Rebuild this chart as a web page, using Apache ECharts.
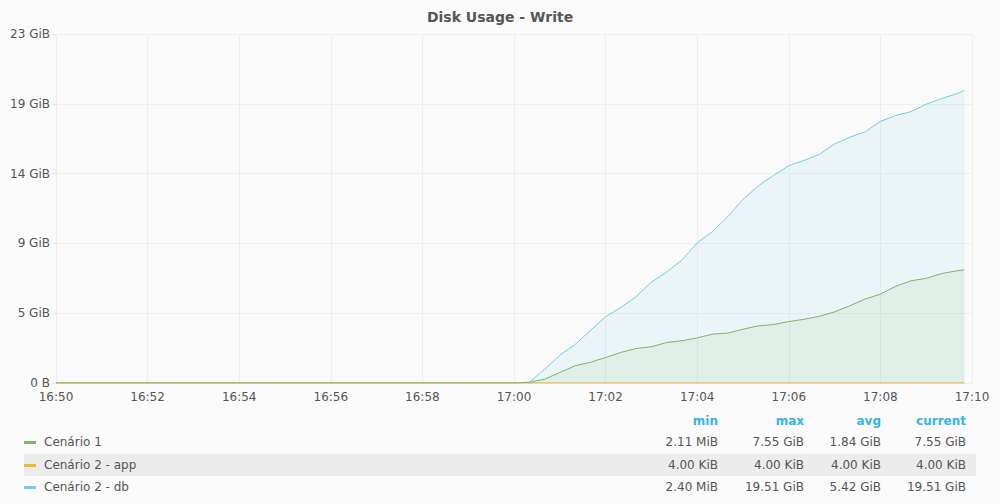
<!DOCTYPE html>
<html><head><meta charset="utf-8">
<script src="https://cdn.jsdelivr.net/npm/echarts@6/dist/echarts.min.js"></script>
<style>html,body{margin:0;padding:0;background:#fafafa;}#c{width:1000px;height:504px;}</style>
</head><body><div id="c"></div>
<script>
const title = 'Disk Usage - Write';
const seriesNames = ['Cenário 1', 'Cenário 2 - app', 'Cenário 2 - db'];
const seriesColors = ['#7eb26d', '#eab839', '#6ed0e0'];
const xTickLabels = ['16:50','16:52','16:54','16:56','16:58','17:00','17:02','17:04','17:06','17:08','17:10'];
const times = ['16:50:00','17:00:00','17:00:20','17:00:40','17:01:00','17:01:20','17:01:40','17:02:00','17:02:20','17:02:40','17:03:00',
  '17:03:20','17:03:40','17:04:00','17:04:20','17:04:40','17:05:00','17:05:20','17:05:40','17:06:00','17:06:20',
  '17:06:40','17:07:00','17:07:20','17:07:40','17:08:00','17:08:20','17:08:40','17:09:00','17:09:20','17:09:40','17:09:50'];
// values in GiB
const cenario1 = [0,0,0.05,0.25,0.7,1.15,1.38,1.7,2.04,2.3,2.42,2.7,2.82,3.01,3.26,3.33,3.59,3.81,3.9,4.1,4.25,4.45,4.75,5.15,5.6,5.93,6.45,6.82,6.98,7.3,7.48,7.55];
const cenario2app = times.map(() => 4 / 1048576); // constant 4.00 KiB
const cenario2db = [0,0,0.05,0.9,1.85,2.57,3.5,4.42,5.05,5.75,6.73,7.4,8.2,9.35,10.1,11.1,12.25,13.15,13.84,14.5,14.85,15.25,15.95,16.4,16.75,17.45,17.85,18.1,18.6,18.97,19.3,19.51];
const statHeaders = ['min','max','avg','current'];
const statRows = [
  ['2.11 MiB','7.55 GiB','1.84 GiB','7.55 GiB'],
  ['4.00 KiB','4.00 KiB','4.00 KiB','4.00 KiB'],
  ['2.40 MiB','19.51 GiB','5.42 GiB','19.51 GiB']
];

const GIB_TO_GB = 1073741824 / 1e9;
function toMin(s){const p=s.split(':').map(Number);return (p[0]*60+p[1]+p[2]/60)-(16*60+50);}
function mk(vals){return times.map((t,i)=>[toMin(t), vals[i]*GIB_TO_GB]);}
const allVals = [cenario1, cenario2app, cenario2db];
const zOrder = [4, 3, 2];

const font = 'DejaVu Sans';
const textCol = '#555';
const series = [0,1,2].map(i => ({
  name: seriesNames[i], type: 'line', data: mk(allVals[i]), showSymbol: false, symbol: 'none',
  lineStyle: {width: i===1 ? 1.5 : 1, color: seriesColors[i], opacity: i===1 ? 0.8 : 1}, itemStyle: {color: seriesColors[i]},
  areaStyle: {color: seriesColors[i], opacity: i===1 ? 0.0 : 0.1}, z: zOrder[i], animation: false
}));

const graphics = [];
const colRight = [718, 804, 881, 966];
statHeaders.forEach((h, j) => graphics.push({type:'text', x: colRight[j], y: 421,
  style:{text:h, fill:'#33b5e5', font:'bold 12px "'+font+'"', textAlign:'right', textVerticalAlign:'middle'}}));
const rowY = [442, 465, 487];
graphics.push({type:'rect', shape:{x:24, y:454, width:952, height:22}, style:{fill:'#ececec'}, z:0});
seriesNames.forEach((n, i) => {
  graphics.push({type:'rect', shape:{x:24, y:rowY[i]-1, width:12, height:3}, style:{fill:seriesColors[i]}, z:1});
  graphics.push({type:'text', x:44, y:rowY[i], style:{text:n, fill:textCol, font:'12px "'+font+'"', textVerticalAlign:'middle'}, z:1});
  statRows[i].forEach((v, j) => graphics.push({type:'text', x: colRight[j], y: rowY[i],
    style:{text:v, fill:textCol, font:'12px "'+font+'"', textAlign:'right', textVerticalAlign:'middle'}, z:1}));
});

const chart = echarts.init(document.getElementById('c'), null, {renderer:'svg'});
chart.setOption({
  backgroundColor: '#fafafa',
  animation: false,
  title: {text: title, left: 'center', top: 5, textStyle: {fontFamily: font, fontSize: 14, fontWeight: 'bold', color: '#555'}},
  grid: {left: 56, right: 28, top: 34, bottom: 121, containLabel: false},
  xAxis: {type: 'value', min: 0, max: 20, interval: 2,
    axisLine: {show: false}, axisTick: {show: false},
    splitLine: {show: true, lineStyle: {color: '#eeeeee', width: 1}},
    axisLabel: {fontFamily: font, fontSize: 12, color: textCol, margin: 8, showMinLabel: true, showMaxLabel: true,
      formatter: v => xTickLabels[Math.round(v/2)]}},
  yAxis: {type: 'value', min: 0, max: 25, interval: 5,
    axisLine: {show: false}, axisTick: {show: true, length: 4, lineStyle: {color: '#e6e6e6'}},
    splitLine: {show: true, lineStyle: {color: '#eeeeee', width: 1}},
    axisLabel: {fontFamily: font, fontSize: 12, color: textCol, margin: 6,
      formatter: v => v === 0 ? '0 B' : Math.round(v / GIB_TO_GB) + ' GiB'}},
  series: series,
  graphic: graphics
});
</script></body></html>
